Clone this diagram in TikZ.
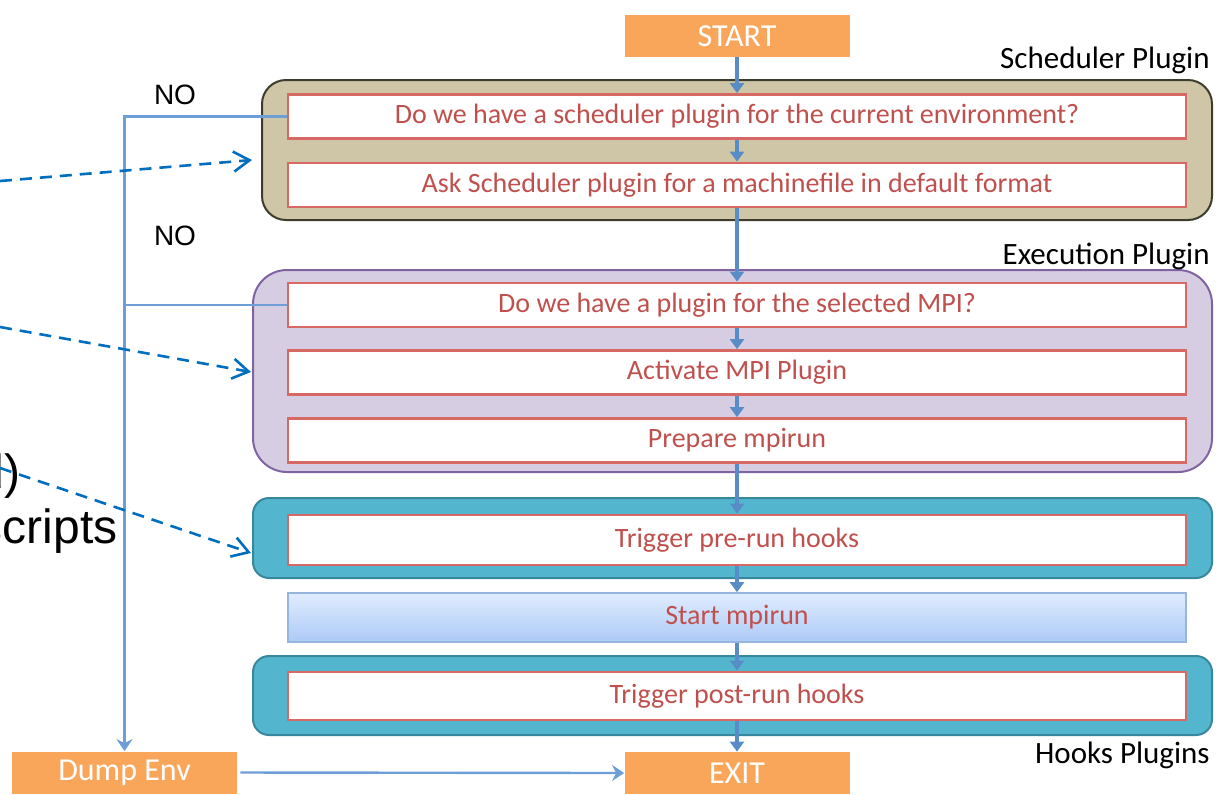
\documentclass[tikz,border=0pt]{standalone}
\usepackage{fontspec}
\setmainfont{Carlito}
\newfontfamily\arialfont{Liberation Sans}
\usetikzlibrary{arrows.meta,positioning}

\definecolor{orangefill}{RGB}{249,166,90}
\definecolor{tanfill}{RGB}{206,198,166}
\definecolor{tanborder}{RGB}{62,60,45}
\definecolor{lilacfill}{RGB}{214,205,226}
\definecolor{lilacborder}{RGB}{128,100,162}
\definecolor{tealfill}{RGB}{84,182,206}
\definecolor{tealborder}{RGB}{55,135,158}
\definecolor{innerred}{RGB}{214,105,100}
\definecolor{textred}{RGB}{192,80,77}
\definecolor{flowblue}{RGB}{88,140,198}
\definecolor{noblue}{RGB}{110,158,215}
\definecolor{dashblue}{RGB}{0,110,190}
\definecolor{mpitop}{RGB}{224,236,255}
\definecolor{mpibottom}{RGB}{172,202,246}
\definecolor{mpiborder}{RGB}{150,182,222}

\begin{document}
\begin{tikzpicture}[x=0.5pt,y=0.5pt,
    orangebox/.style={fill=orangefill, text=white, minimum width=112.5pt, minimum height=21pt, font=\fontsize{16}{19}\selectfont},
    innerbox/.style={draw=innerred, line width=1.4pt, fill=white, text=textred, minimum width=449pt, minimum height=22pt, font=\fontsize{14}{17}\selectfont},
    grp/.style={line width=1pt, minimum width=479.5pt, rounded corners=#1},
    grouplabel/.style={anchor=east, inner sep=0pt, font=\fontsize{15.5}{18}\selectfont},
    nolabel/.style={font=\arialfont\fontsize{14}{16}\selectfont},
    fragment/.style={anchor=base east, font=\arialfont\fontsize{24}{28}\selectfont, inner sep=0pt},
    flow/.style={draw=flowblue, line width=2pt, -{Triangle[length=5pt,width=7pt]}},
    noline/.style={draw=noblue, line width=1.2pt},
    dashline/.style={draw=dashblue, line width=1.3pt, dash pattern=on 6pt off 4pt, -{Straight Barb[length=8pt,width=10pt,line width=1.3pt]}}
  ]
\useasboundingbox (0,0) rectangle (1219,-794);

% plugin groups
\node[grp=12pt, fill=tanfill, draw=tanborder, minimum width=475pt, minimum height=70pt] (schedgrp) at (737,-150) {};
\node[grp=17pt, fill=lilacfill, draw=lilacborder, minimum height=101pt] (execgrp) at (732.5,-371) {};
\node[grp=8pt, fill=tealfill, draw=tealborder, minimum height=40pt] (pregrp) at (732.5,-538) {};
\node[grp=8pt, fill=tealfill, draw=tealborder, minimum height=39.5pt] (postgrp) at (732.5,-695.5) {};

\node[grouplabel] (schedlbl) at (1210,-60) {Scheduler Plugin};
\node[grouplabel] (execlbl) at (1210,-256) {Execution Plugin};
\node[grouplabel] (hookslbl) at (1210,-755) {Hooks Plugins};

% steps
\node[orangebox] (start) at (737,-36) {START};
\node[innerbox] (q1) at (737,-116.5) {Do we have a scheduler plugin for the current environment?};
\node[innerbox] (mfile) at (737,-185) {Ask Scheduler plugin for a machinefile in default format};
\node[innerbox] (q2) at (737,-305) {Do we have a plugin for the selected MPI?};
\node[innerbox] (activate) at (737,-372.5) {Activate MPI Plugin};
\node[innerbox] (prepare) at (737,-440.5) {Prepare mpirun};
\node[innerbox, minimum height=25pt] (prehooks) at (737,-540) {Trigger pre-run hooks};
\node[draw=mpiborder, line width=0.8pt, top color=mpitop, bottom color=mpibottom, text=textred,
      minimum width=449pt, minimum height=24.5pt, font=\fontsize{14}{17}\selectfont] (mpirun) at (737,-617.5) {Start mpirun};
\node[innerbox, minimum height=24pt] (posthooks) at (737,-696) {Trigger post-run hooks};
\node[orangebox] (exit) at (737,-773) {EXIT};
\node[orangebox] (dump) at (124.5,-772.5) {Dump Env};

\node[nolabel] (no1) at (175,-95) {NO};
\node[nolabel] (no2) at (175,-236) {NO};

% cut-off side text
\node[fragment] (frag1) at (21,-488) {d)};
\node[fragment] (frag2) at (118,-543) {scripts};

% main flow
\draw[flow] (start) -- (q1);
\draw[flow] (q1) -- (mfile);
\draw[flow] (mfile) -- (q2);
\draw[flow] (q2) -- (activate);
\draw[flow] (activate) -- (prepare);
\draw[flow] (prepare) -- (prehooks);
\draw[flow] (prehooks) -- (mpirun);
\draw[flow] (mpirun) -- (posthooks);
\draw[flow] (posthooks) -- (exit);

% NO branches
\draw[noline, -{Stealth[length=6pt,width=8pt,inset=2pt]}] (q1.west) -| (dump.north);
\draw[noline] (q2.west) -- (q2.west -| dump.north);
\draw[noline, -{Stealth[length=6pt,width=8pt,inset=2pt]}] ([xshift=1.5pt]dump.east) -- (exit.west);

% pointers from the side notes
\coordinate (n1) at (0,-181);
\coordinate (n1end) at (252,-160);
\coordinate (n2) at (0,-327);
\coordinate (n2end) at (251,-372);
\coordinate (n3) at (0,-468);
\coordinate (n3end) at (251,-553);
\draw[dashline] (n1) -- (n1end);
\draw[dashline] (n2) -- (n2end);
\draw[dashline] (n3) -- (n3end);
\end{tikzpicture}
\end{document}
